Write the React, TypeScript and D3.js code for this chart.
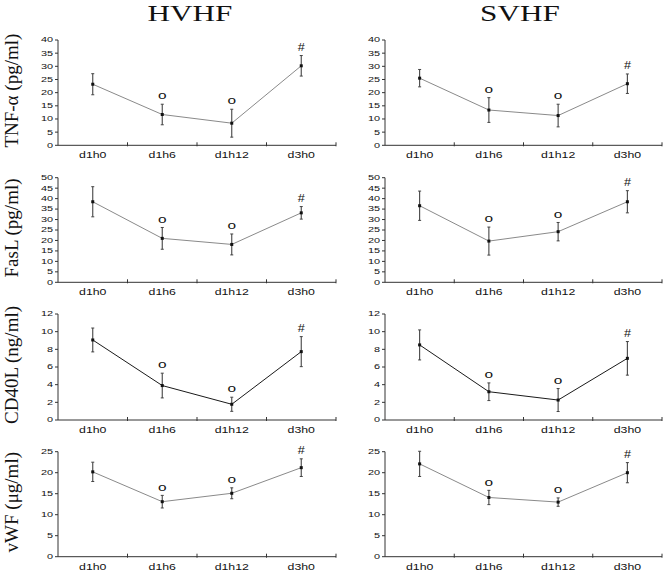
import React from "react";
import * as d3 from "d3";

const categories = ["d1h0", "d1h6", "d1h12", "d3h0"];
const marks = ["", "o", "o", "#"];

const tnfHVHF = [23.2, 11.7, 8.4, 30.2];
const tnfHVHFErr = [4.0, 3.9, 5.3, 3.9];
const tnfSVHF = [25.5, 13.4, 11.3, 23.4];
const tnfSVHFErr = [3.3, 4.7, 4.3, 3.7];

const fasHVHF = [38.5, 21.0, 18.1, 33.2];
const fasHVHFErr = [7.2, 5.2, 5.0, 3.0];
const fasSVHF = [36.6, 19.7, 24.2, 38.5];
const fasSVHFErr = [7.0, 6.7, 4.4, 5.3];

const cdHVHF = [9.06, 3.9, 1.78, 7.74];
const cdHVHFErr = [1.35, 1.4, 0.8, 1.7];
const cdSVHF = [8.5, 3.2, 2.26, 6.98];
const cdSVHFErr = [1.7, 1.0, 1.3, 1.9];

const vwfHVHF = [20.2, 13.1, 15.1, 21.2];
const vwfHVHFErr = [2.3, 1.5, 1.3, 2.1];
const vwfSVHF = [22.1, 14.1, 13.0, 20.0];
const vwfSVHFErr = [3.0, 1.7, 1.0, 2.4];

const groupTitles = ["HVHF", "SVHF"];
const rowLabels = ["TNF-α (pg/ml)", "FasL (pg/ml)", "CD40L (ng/ml)", "vWF (μg/ml)"];
const rowMax = [40, 50, 12, 25];
const rowStep = [5, 5, 2, 5];

const rows = [
  { left: [tnfHVHF, tnfHVHFErr], right: [tnfSVHF, tnfSVHFErr], line: "#8a8a8a" },
  { left: [fasHVHF, fasHVHFErr], right: [fasSVHF, fasSVHFErr], line: "#8a8a8a" },
  { left: [cdHVHF, cdHVHFErr], right: [cdSVHF, cdSVHFErr], line: "#1a1a1a" },
  { left: [vwfHVHF, vwfHVHFErr], right: [vwfSVHF, vwfSVHFErr], line: "#8a8a8a" },
];

const W = 669, H = 572;
const colX: [number, number][] = [[58, 336], [385, 662]];
const rowY: [number, number][] = [[40, 145.3], [177.7, 282.3], [314, 420], [451.7, 556.7]];
const SANS = "Liberation Sans, Arial, sans-serif";
const SERIF = "Liberation Serif, Times New Roman, serif";

function SText({ x, y, sx = 1, size, anchor = "middle", children, family = SANS, baseline, weight }: any) {
  return (
    <text
      transform={`translate(${x},${y}) scale(${sx},1)`}
      fontSize={size}
      fontFamily={family}
      fontWeight={weight}
      textAnchor={anchor}
      dominantBaseline={baseline}
      fill="#111"
    >
      {children}
    </text>
  );
}

function Panel({ ri, ci, vals, errs, lineColor }: any) {
  const [x0, x1] = colX[ci];
  const [yt, yb] = rowY[ri];
  const x = d3.scaleBand().domain(categories).range([x0, x1]).padding(0);
  const y = d3.scaleLinear().domain([0, rowMax[ri]]).range([yb, yt]);
  const ticks = d3.range(0, rowMax[ri] + 0.001, rowStep[ri]);
  const cx = (c: string) => (x(c) as number) + x.bandwidth() / 2;
  const pts = categories.map((c, i) => [cx(c), y(vals[i])] as [number, number]);
  const line = d3.line()(pts) as string;
  const bounds = d3.range(1, categories.length + 1).map((i) => x0 + i * x.bandwidth());
  return (
    <g>
      <line x1={x0} x2={x0} y1={yt} y2={yb} stroke="#333" strokeWidth={1} />
      {ticks.map((t) => (
        <g key={t}>
          <line x1={x0 - 3} x2={x0} y1={y(t)} y2={y(t)} stroke="#333" strokeWidth={1} />
          <SText x={x0 - 5} y={y(t)} sx={1.45} size={7.5} anchor="end" baseline="central">
            {t}
          </SText>
        </g>
      ))}
      <line x1={x0} x2={x1} y1={yb} y2={yb} stroke="#333" strokeWidth={1} />
      {bounds.map((b, i) => (
        <line key={i} x1={b} x2={b} y1={yb - 3} y2={yb + 1} stroke="#333" strokeWidth={1} />
      ))}
      {categories.map((c) => (
        <SText key={c} x={cx(c)} y={yb + 13} sx={1.45} size={8.5}>
          {c}
        </SText>
      ))}
      <path d={line} fill="none" stroke={lineColor} strokeWidth={1} />
      {categories.map((c, i) => {
        const xx = cx(c);
        const top = y(vals[i] + errs[i]);
        const bot = y(vals[i] - errs[i]);
        return (
          <g key={c}>
            <line x1={xx} x2={xx} y1={top} y2={bot} stroke="#444" strokeWidth={1.1} />
            <line x1={xx - 1.5} x2={xx + 1.5} y1={top} y2={top} stroke="#444" strokeWidth={1} />
            <line x1={xx - 1.5} x2={xx + 1.5} y1={bot} y2={bot} stroke="#444" strokeWidth={1} />
            <rect x={xx - 1.5} y={y(vals[i]) - 1.5} width={3} height={3} fill="#111" />
            {marks[i] && (
              <SText
                x={xx}
                y={top - 8.5}
                sx={marks[i] === "#" ? 1.2 : 1.4}
                size={marks[i] === "#" ? 10.5 : 11}
                baseline="central"
              >
                {marks[i]}
              </SText>
            )}
          </g>
        );
      })}
    </g>
  );
}

export default function App() {
  return (
    <svg
      width={W}
      height={H}
      viewBox={`0 0 ${W} ${H}`}
      style={{ position: "absolute", left: 0, top: 0, background: "#fff" }}
    >
      <rect x={0} y={0} width={W} height={H} fill="#fff" />
      {groupTitles.map((t, ci) => (
        <SText key={t} x={ci === 0 ? 190 : 520} y={21} sx={1.3} size={24} family={SERIF}>
          {t}
        </SText>
      ))}
      {rowLabels.map((l, ri) => {
        const cy = (rowY[ri][0] + rowY[ri][1]) / 2 - 2;
        return (
          <text
            key={l}
            transform={`translate(18,${cy}) rotate(-90)`}
            fontSize={19}
            fontFamily={SERIF}
            textAnchor="middle"
            fill="#111"
          >
            {l}
          </text>
        );
      })}
      {rows.map((r, ri) => (
        <g key={ri}>
          <Panel ri={ri} ci={0} vals={r.left[0]} errs={r.left[1]} lineColor={r.line} />
          <Panel ri={ri} ci={1} vals={r.right[0]} errs={r.right[1]} lineColor={r.line} />
        </g>
      ))}
    </svg>
  );
}
